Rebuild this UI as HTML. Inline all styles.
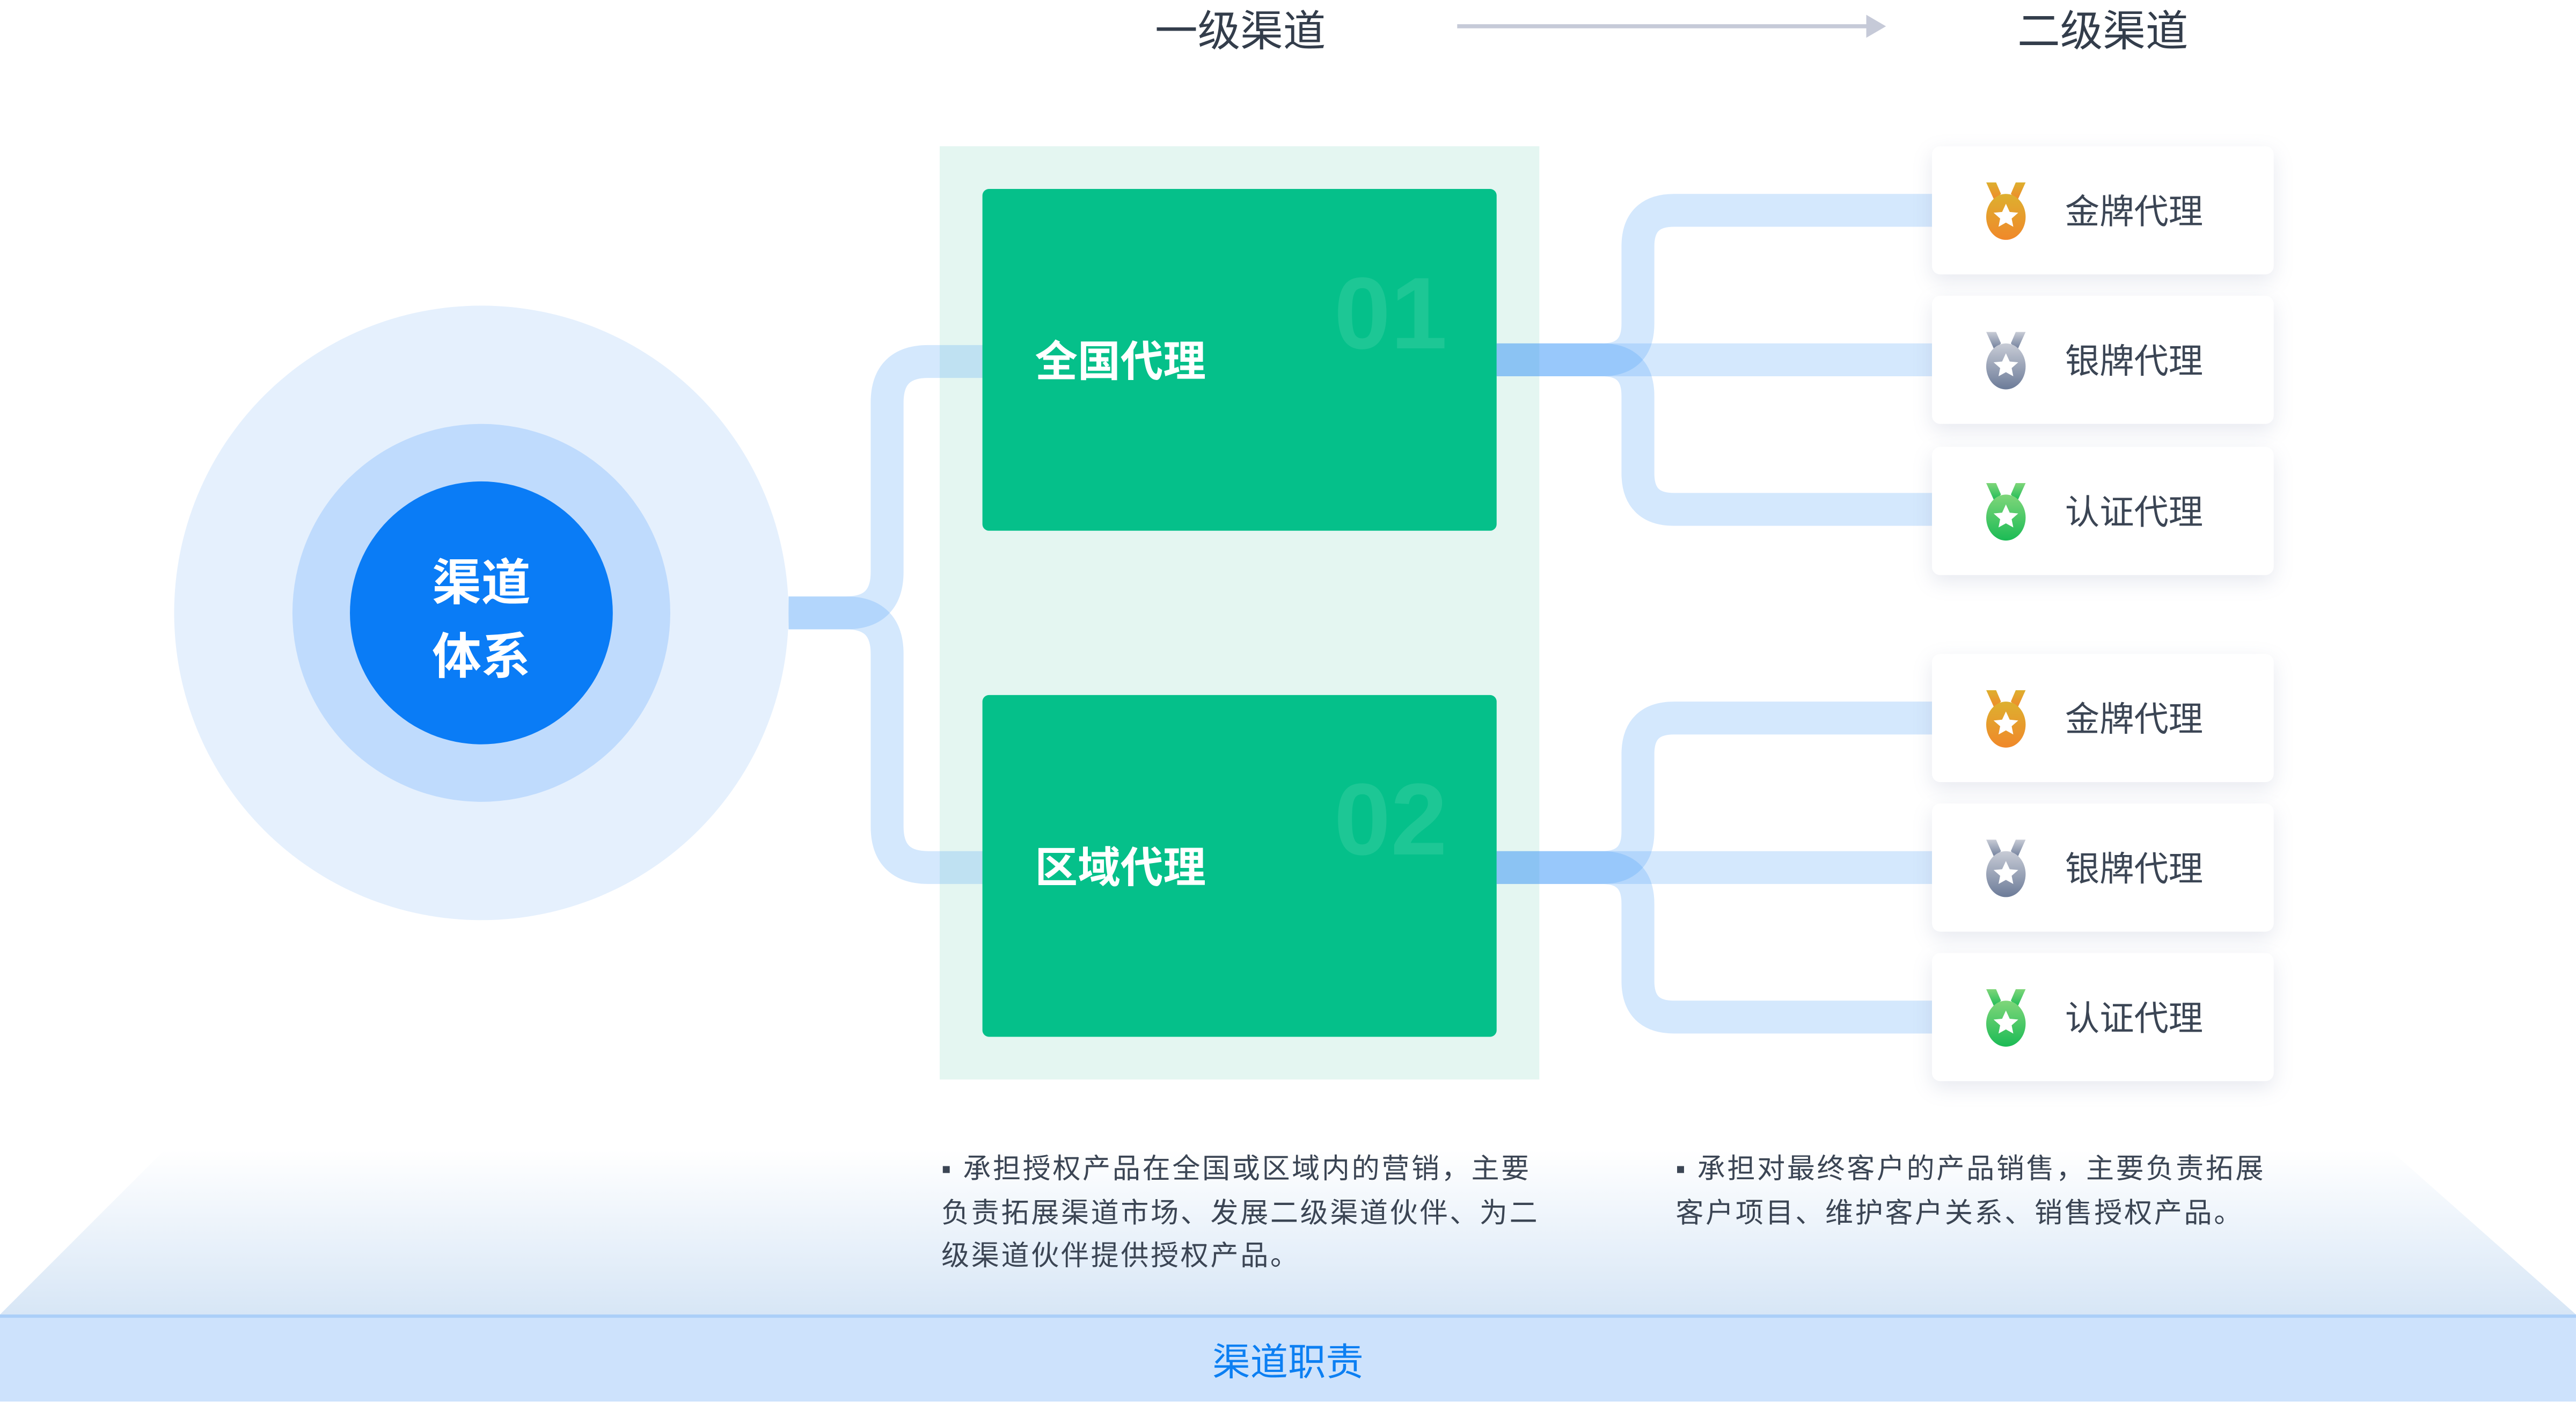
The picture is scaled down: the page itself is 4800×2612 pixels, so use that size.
<!DOCTYPE html>
<html><head><meta charset="utf-8">
<style>
html,body{margin:0;padding:0;background:#fff;}
body{width:4800px;height:2612px;overflow:hidden;position:relative;}
#w{position:absolute;left:0;top:0;width:1568px;height:853px;transform:scale(3.0612);transform-origin:0 0;font-family:"Liberation Sans","Noto Sans CJK SC",sans-serif;}
.abs{position:absolute;}
.card{position:absolute;left:1176px;width:208px;height:78px;background:#fff;border-radius:5px;box-shadow:0 4px 12px rgba(120,135,170,0.18);}
.card .t{position:absolute;left:81px;top:2px;line-height:78px;font-size:21px;color:#3b4554;}
.card svg{position:absolute;left:33px;top:22px;}
.gb{position:absolute;left:598px;width:313px;height:208px;background:#05c08a;border-radius:4px;}
.gb .t{position:absolute;left:32px;top:88px;font-size:26px;font-weight:bold;color:#fff;line-height:34px;}
.gb .n{position:absolute;left:214px;top:42px;font-size:62px;font-weight:bold;color:#1dc795;line-height:70px;}
.p{position:absolute;font-size:17px;letter-spacing:1.2px;line-height:26.5px;color:#3b4554;white-space:nowrap;}
</style></head><body><div id="w">
<svg class="abs" style="left:0;top:0" width="1568" height="853">
<defs>
<linearGradient id="tg" x1="0" y1="0" x2="0" y2="1"><stop offset="0" stop-color="#fff"/><stop offset="1" stop-color="#d7e6f6"/></linearGradient>
</defs>
<polygon points="100,700 1455,700 1568,800 0,800" fill="url(#tg)"/>
<rect x="0" y="800" width="1568" height="53" fill="#cde2fc"/>
<rect x="0" y="800" width="1568" height="2" fill="#abcff8"/>
<line x1="887" y1="16" x2="1138" y2="16" stroke="#c6cad8" stroke-width="2.5"/>
<polygon points="1136,9 1148,16 1136,23" fill="#c6cad8"/>
<circle cx="293" cy="373" r="187" fill="#e5f0fd"/>
<circle cx="293" cy="373" r="115" fill="#bfdbfd"/>
<circle cx="293" cy="373" r="80" fill="#0a7cf6"/>
<rect x="572" y="89" width="365" height="568" fill="#e4f6f1"/>
<g fill="none" stroke="rgba(60,150,248,0.22)" stroke-width="20">
<path d="M480,373 H515 Q540,373 540,348 V245 Q540,220 565,220 H600"/>
<path d="M480,373 H515 Q540,373 540,398 V503 Q540,528 565,528 H600"/>
</g>
</svg>
<div class="gb" style="top:115px"><div class="n">01</div><div class="t">全国代理</div></div>
<div class="gb" style="top:423px"><div class="n">02</div><div class="t">区域代理</div></div>
<svg class="abs" style="left:0;top:0" width="1568" height="853">
<g fill="none" stroke="rgba(60,150,248,0.22)" stroke-width="20">
<path d="M911,219 H975 Q997,219 997,197 V150 Q997,128 1019,128 H1180"/>
<path d="M911,219 H1180"/>
<path d="M911,219 H975 Q997,219 997,241 V288 Q997,310 1019,310 H1180"/>
<path d="M911,528 H975 Q997,528 997,506 V459 Q997,437 1019,437 H1180"/>
<path d="M911,528 H1180"/>
<path d="M911,528 H975 Q997,528 997,550 V597 Q997,619 1019,619 H1180"/>
</g>
</svg>
<div class="abs" style="left:213px;top:333px;width:160px;text-align:center;color:#fff;font-size:30px;font-weight:bold;line-height:45px;">渠道<br>体系</div>
<div class="abs" style="left:680px;top:2px;width:150px;text-align:center;font-size:26px;color:#333d4b;line-height:34px;">一级渠道</div>
<div class="abs" style="left:1205px;top:2px;width:150px;text-align:center;font-size:26px;color:#333d4b;line-height:34px;">二级渠道</div>

<div class="card" style="top:89px"><svg width="26" height="36" viewBox="0 0 26 36"><defs><linearGradient id="g1" x1="0" y1="0" x2="0" y2="1"><stop offset="0" stop-color="#ddb02f"/><stop offset="1" stop-color="#f0882a"/></linearGradient></defs><polygon points="0,0 6,0 9,7 5,11" fill="url(#g1)"/><polygon points="24,0 18,0 15,7 19,11" fill="url(#g1)"/><ellipse cx="12" cy="21" rx="12" ry="14" fill="url(#g1)"/><polygon points="12,13 14.3,18 19.5,18.5 15.5,22 16.5,27 12,24.5 7.5,27 8.5,22 4.5,18.5 9.7,18" fill="#fff"/></svg><div class="t">金牌代理</div></div>
<div class="card" style="top:180px"><svg width="26" height="36" viewBox="0 0 26 36"><defs><linearGradient id="g2" x1="0" y1="0" x2="0" y2="1"><stop offset="0" stop-color="#c8ccd6"/><stop offset="1" stop-color="#6c7b98"/></linearGradient></defs><polygon points="0,0 6,0 9,7 5,11" fill="url(#g2)"/><polygon points="24,0 18,0 15,7 19,11" fill="url(#g2)"/><ellipse cx="12" cy="21" rx="12" ry="14" fill="url(#g2)"/><polygon points="12,13 14.3,18 19.5,18.5 15.5,22 16.5,27 12,24.5 7.5,27 8.5,22 4.5,18.5 9.7,18" fill="#fff"/></svg><div class="t">银牌代理</div></div>
<div class="card" style="top:272px"><svg width="26" height="36" viewBox="0 0 26 36"><defs><linearGradient id="g3" x1="0" y1="0" x2="0" y2="1"><stop offset="0" stop-color="#7fd67a"/><stop offset="1" stop-color="#1bbb55"/></linearGradient></defs><polygon points="0,0 6,0 9,7 5,11" fill="url(#g3)"/><polygon points="24,0 18,0 15,7 19,11" fill="url(#g3)"/><ellipse cx="12" cy="21" rx="12" ry="14" fill="url(#g3)"/><polygon points="12,13 14.3,18 19.5,18.5 15.5,22 16.5,27 12,24.5 7.5,27 8.5,22 4.5,18.5 9.7,18" fill="#fff"/></svg><div class="t">认证代理</div></div>
<div class="card" style="top:398px"><svg width="26" height="36" viewBox="0 0 26 36"><polygon points="0,0 6,0 9,7 5,11" fill="url(#g1)"/><polygon points="24,0 18,0 15,7 19,11" fill="url(#g1)"/><ellipse cx="12" cy="21" rx="12" ry="14" fill="url(#g1)"/><polygon points="12,13 14.3,18 19.5,18.5 15.5,22 16.5,27 12,24.5 7.5,27 8.5,22 4.5,18.5 9.7,18" fill="#fff"/></svg><div class="t">金牌代理</div></div>
<div class="card" style="top:489px"><svg width="26" height="36" viewBox="0 0 26 36"><polygon points="0,0 6,0 9,7 5,11" fill="url(#g2)"/><polygon points="24,0 18,0 15,7 19,11" fill="url(#g2)"/><ellipse cx="12" cy="21" rx="12" ry="14" fill="url(#g2)"/><polygon points="12,13 14.3,18 19.5,18.5 15.5,22 16.5,27 12,24.5 7.5,27 8.5,22 4.5,18.5 9.7,18" fill="#fff"/></svg><div class="t">银牌代理</div></div>
<div class="card" style="top:580px"><svg width="26" height="36" viewBox="0 0 26 36"><polygon points="0,0 6,0 9,7 5,11" fill="url(#g3)"/><polygon points="24,0 18,0 15,7 19,11" fill="url(#g3)"/><ellipse cx="12" cy="21" rx="12" ry="14" fill="url(#g3)"/><polygon points="12,13 14.3,18 19.5,18.5 15.5,22 16.5,27 12,24.5 7.5,27 8.5,22 4.5,18.5 9.7,18" fill="#fff"/></svg><div class="t">认证代理</div></div>

<div class="p" style="left:573px;top:699px;">▪ 承担授权产品在全国或区域内的营销，主要<br>负责拓展渠道市场、发展二级渠道伙伴、为二<br>级渠道伙伴提供授权产品。</div>
<div class="p" style="left:1020px;top:699px;">▪ 承担对最终客户的产品销售，主要负责拓展<br>客户项目、维护客户关系、销售授权产品。</div>
<div class="abs" style="left:684px;top:813px;width:200px;text-align:center;font-size:23px;color:#0c7ff2;line-height:32px;">渠道职责</div>
</div></body></html>
